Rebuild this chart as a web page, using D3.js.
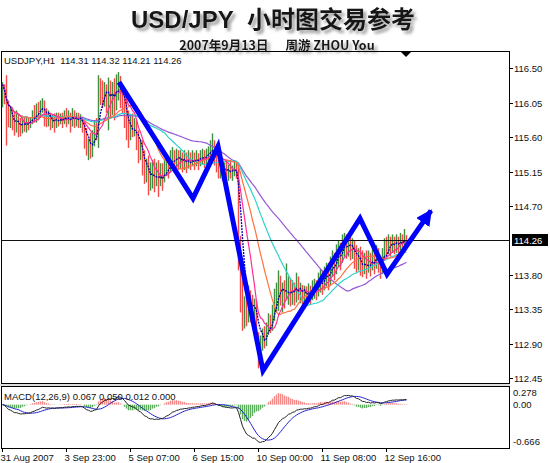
<!DOCTYPE html>
<html>
<head>
<meta charset="UTF-8">
<script src="https://cdn.jsdelivr.net/npm/d3@7"></script>
<style>
  body { margin: 0; background: #fff; }
  svg { display: block; }
  .lbl { font-family: "Liberation Sans", Arial, sans-serif; font-size: 9.5px; fill: #111; }
</style>
</head>
<body>
<script>
// USDJPY H1 bars (open = previous close)
var firstOpen = 116.10;
var closes = [
  116.29,116.15,115.85,115.79,115.92,115.77,115.72,115.87,115.74,115.69,
  115.82,115.74,115.85,115.77,115.82,115.92,115.85,116.00,115.90,116.03,
  116.08,115.82,115.77,115.90,115.79,115.85,115.74,115.87,115.82,115.87,
  115.79,115.90,115.82,115.88,115.76,115.92,115.82,115.87,115.79,115.85,
  115.72,115.53,115.43,115.53,115.40,115.61,115.76,115.64,116.34,116.24,
  116.08,116.26,116.03,116.32,115.98,116.24,116.08,116.34,116.37,116.13,
  116.00,115.82,115.66,115.58,115.79,115.69,115.77,115.51,115.35,115.49,
  115.19,115.09,115.23,115.01,115.06,115.19,114.98,115.17,114.96,115.14,
  115.03,115.22,115.27,115.17,115.35,115.40,115.24,115.38,115.27,115.35,
  115.23,115.32,115.22,115.32,115.24,115.35,115.27,115.35,115.27,115.36,
  115.39,115.30,115.38,115.43,115.48,115.53,115.32,115.22,115.17,115.24,
  115.11,115.19,115.14,115.19,115.11,115.17,115.22,115.14,114.25,113.60,
  113.23,113.47,113.31,113.52,113.47,113.26,113.40,113.02,112.78,112.94,
  113.05,112.94,113.13,113.23,113.13,113.33,113.57,113.62,113.78,113.52,
  113.60,113.47,113.57,113.70,113.49,113.65,113.52,113.75,113.57,113.62,
  113.49,113.60,113.47,113.62,113.52,113.65,113.67,113.57,113.75,113.81,
  113.65,113.83,113.88,113.73,113.96,114.04,113.88,114.12,114.17,114.01,
  114.25,114.28,114.12,114.22,114.09,114.20,113.99,113.91,114.07,113.88,
  113.83,114.01,113.86,114.04,113.88,114.07,113.94,114.12,113.96,113.83,
  114.09,114.22,114.15,114.25,114.17,114.25,114.17,114.25,114.18,114.28,
  114.20,114.31,114.26
];
var highs = [
  116.32,116.24,116.41,116.08,115.98,115.99,115.92,115.95,115.90,115.85,
  115.86,115.85,115.87,115.86,115.85,115.95,116.02,116.04,116.06,116.08,
  116.11,116.08,115.98,115.95,115.92,115.90,115.91,115.92,115.92,115.91,
  115.92,115.95,115.98,115.95,115.92,115.98,115.95,115.92,115.92,115.90,
  115.87,115.79,115.72,115.58,115.66,115.69,115.82,115.85,116.41,116.37,
  116.34,116.32,116.29,116.38,116.34,116.32,116.37,116.42,116.45,116.40,
  116.29,116.21,116.12,115.95,115.89,115.91,115.85,115.82,115.69,115.58,
  115.56,115.43,115.32,115.36,115.27,115.30,115.32,115.27,115.30,115.26,
  115.26,115.30,115.35,115.36,115.43,115.47,115.43,115.45,115.43,115.43,
  115.40,115.43,115.40,115.43,115.40,115.43,115.40,115.43,115.39,115.43,
  115.45,115.43,115.45,115.48,115.56,115.65,115.56,115.43,115.35,115.30,
  115.32,115.27,115.30,115.24,115.30,115.23,115.30,115.27,115.27,114.31,
  113.80,113.52,113.57,113.66,113.60,113.54,113.49,113.47,113.05,113.01,
  113.10,113.13,113.18,113.30,113.28,113.41,113.62,113.70,113.86,113.79,
  113.70,113.73,113.95,113.78,113.75,113.73,113.70,113.83,113.78,113.70,
  113.67,113.66,113.65,113.69,113.66,113.73,113.75,113.73,113.83,113.88,
  113.86,113.91,113.96,113.96,114.04,114.12,114.09,114.20,114.25,114.22,
  114.33,114.35,114.33,114.30,114.30,114.28,114.25,114.19,114.15,114.17,
  114.12,114.09,114.12,114.12,114.09,114.15,114.12,114.19,114.15,114.01,
  114.15,114.28,114.30,114.33,114.30,114.33,114.30,114.33,114.30,114.35,
  114.33,114.40,114.32
];
var lows = [
  115.99,116.03,115.49,115.73,115.72,115.69,115.62,115.66,115.60,115.61,
  115.65,115.67,115.66,115.69,115.72,115.77,115.79,115.79,115.82,115.85,
  115.92,115.74,115.73,115.74,115.69,115.72,115.66,115.72,115.74,115.77,
  115.72,115.77,115.73,115.77,115.66,115.74,115.72,115.74,115.72,115.72,
  115.66,115.45,115.36,115.30,115.32,115.34,115.48,115.56,115.46,116.02,
  115.98,116.00,115.92,115.69,115.85,115.89,115.82,115.95,116.08,115.98,
  115.91,115.72,115.56,115.46,115.56,115.60,115.61,115.43,115.26,115.30,
  115.10,114.99,115.01,114.84,114.90,114.93,114.88,114.96,114.82,114.97,
  114.90,115.01,115.09,115.06,115.14,115.22,115.14,115.19,115.17,115.19,
  115.14,115.17,115.13,115.19,115.17,115.22,115.17,115.22,115.17,115.22,
  115.24,115.20,115.24,115.27,115.30,115.36,115.23,115.14,115.06,115.06,
  115.03,115.03,115.06,115.03,115.06,115.03,115.09,115.06,113.86,113.31,
  113.07,113.10,113.13,113.18,113.18,113.13,113.18,112.94,112.58,112.68,
  112.81,112.84,112.87,113.02,113.04,113.07,113.20,113.31,113.33,113.40,
  113.31,113.36,113.47,113.41,113.39,113.41,113.40,113.44,113.47,113.43,
  113.39,113.41,113.39,113.44,113.41,113.47,113.49,113.47,113.52,113.57,
  113.54,113.60,113.65,113.60,113.67,113.78,113.73,113.81,113.91,113.86,
  113.96,114.04,114.01,114.04,113.99,114.01,113.88,113.83,113.86,113.79,
  113.77,113.81,113.75,113.83,113.78,113.86,113.81,113.88,113.83,113.75,
  113.81,114.01,114.04,114.07,114.04,114.09,114.07,114.09,114.08,114.12,
  114.09,114.15,114.21
];

var priceTicks = [116.50, 116.05, 115.60, 115.15, 114.70, 113.80, 113.35, 112.90, 112.45];
var lastPrice = 114.26;
var dateLabels = ["31 Aug 2007", "3 Sep 23:00", "5 Sep 07:00", "6 Sep 15:00", "10 Sep 00:00", "11 Sep 08:00", "12 Sep 16:00"];
var dateIdx = [0, 32, 64, 96, 128, 160, 192];
var maPeriods = [5, 10, 20, 34, 55];
var maColors = ["#0000b4", "#ff2f95", "#ff7040", "#2ed3cc", "#9458d8"];
var macdTicks = [0.278, 0.00, -0.666];
var macdTickText = ["0.278", "0.00", "-0.666"];
// hand drawn zigzag: bar index, price
var zigIdx = [58.5, 95.5, 108, 130.5, 179, 192.5, 214.5];
var zigPrice = [116.32, 114.80, 115.48, 112.55, 114.54, 113.81, 114.64];

var W = 550, H = 463;
var left = 1, right = 509;
var mainTop = 51, mainBottom = 383, macdTop = 386, macdBottom = 448;

var svg = d3.select("body").append("svg").attr("width", W).attr("height", H);
var defs = svg.append("defs");

defs.append("clipPath").attr("id", "clipMain").append("rect")
  .attr("x", left).attr("y", mainTop).attr("width", right - left).attr("height", mainBottom - mainTop);
defs.append("clipPath").attr("id", "clipMacd").append("rect")
  .attr("x", left).attr("y", macdTop).attr("width", right - left).attr("height", macdBottom - macdTop);

// soft grey drop shadow for the headings
var shadow = defs.append("filter").attr("id", "shadow")
  .attr("x", "-5%").attr("y", "-50%").attr("width", "115%").attr("height", "200%");
shadow.append("feGaussianBlur").attr("in", "SourceAlpha").attr("stdDeviation", 1.5).attr("result", "b");
shadow.append("feOffset").attr("in", "b").attr("dx", 2.5).attr("dy", 2.5).attr("result", "o");
shadow.append("feFlood").attr("flood-color", "#8a8a8a").attr("flood-opacity", 0.85);
shadow.append("feComposite").attr("in2", "o").attr("operator", "in").attr("result", "s");
var merge = shadow.append("feMerge");
merge.append("feMergeNode").attr("in", "s");
merge.append("feMergeNode").attr("in", "SourceGraphic");

defs.append("marker").attr("id", "arrow")
  .attr("viewBox", "0 0 10 10").attr("refX", 9).attr("refY", 5)
  .attr("markerWidth", 3.2).attr("markerHeight", 3.2).attr("orient", "auto")
  .append("path").attr("d", "M0,0 L10,5 L0,10 z").attr("fill", "#0000ff");

// scales
var x = d3.scaleLinear().domain([0, 254]).range([2, 510]);
var y = d3.scaleLinear().domain([112.45, 116.50]).range([378.3, 68.3]);
var ym = d3.scaleLinear().domain([-0.666, 0.278]).range([macdBottom - 1, macdTop + 1]);

// headings
function heading(tx, ty, size, parts) {
  var t = svg.append("text").attr("x", tx).attr("y", ty)
    .attr("text-anchor", "middle").attr("font-weight", "bold")
    .attr("font-size", size).attr("fill", "#151515").attr("filter", "url(#shadow)");
  parts.forEach(function(p) {
    t.append("tspan").attr("font-family", p[1]).text(p[0]);
  });
}
heading(273, 28, 24, [["USD/JPY\u00a0\u00a0", "'Liberation Sans Narrow', 'Liberation Sans', sans-serif"], ["小时图交易参考", "'Noto Sans CJK SC', sans-serif"]]);
heading(277, 49.5, 12.5, [["2007年9月13日", "'Noto Sans CJK SC', sans-serif"], ["\u00a0\u00a0\u00a0\u00a0\u00a0\u00a0周游 ZHOU You", "'Noto Sans CJK SC', sans-serif"]]);

// frames
svg.append("rect").attr("x", left + 0.5).attr("y", mainTop + 0.5)
  .attr("width", right - left).attr("height", mainBottom - mainTop)
  .attr("fill", "none").attr("stroke", "#000");
svg.append("rect").attr("x", left + 0.5).attr("y", macdTop + 0.5)
  .attr("width", right - left).attr("height", macdBottom - macdTop)
  .attr("fill", "none").attr("stroke", "#000");
svg.append("line").attr("x1", 0).attr("x2", right + 1).attr("y1", mainBottom + 2).attr("y2", mainBottom + 2)
  .attr("stroke", "#bbb");

// bars
var bars = closes.map(function(c, i) {
  var o = i === 0 ? firstOpen : closes[i - 1];
  return { i: i, o: o, c: c, h: Math.max(highs[i], o, c), l: Math.min(lows[i], o, c) };
});
var gMain = svg.append("g").attr("clip-path", "url(#clipMain)");
gMain.selectAll("line.bar").data(bars).enter().append("line")
  .attr("class", "bar")
  .attr("x1", function(d) { return x(d.i) + 0.5; })
  .attr("x2", function(d) { return x(d.i) + 0.5; })
  .attr("y1", function(d) { return y(d.h); })
  .attr("y2", function(d) { return y(d.l); })
  .attr("stroke", function(d) { return d.c >= d.o ? "#3f8f3f" : "#f44a4a"; })
  .attr("stroke-width", 1.4);

// moving averages
function sma(arr, n) {
  return arr.map(function(v, i) { return d3.mean(arr.slice(Math.max(0, i - n + 1), i + 1)); });
}
var line = d3.line().x(function(d, i) { return x(i) + 0.5; }).y(function(d) { return y(d); });
maPeriods.slice().reverse().forEach(function(n, k) {
  var idx = maPeriods.length - 1 - k;
  gMain.append("path").datum(sma(closes, n))
    .attr("d", line).attr("fill", "none")
    .attr("stroke", maColors[idx]).attr("stroke-width", n === 5 ? 1.3 : 1.2)
    .attr("stroke-dasharray", n === 5 ? "2,1" : null);
});

// current price line
gMain.append("line").attr("x1", left).attr("x2", right)
  .attr("y1", Math.round(y(lastPrice)) + 0.5).attr("y2", Math.round(y(lastPrice)) + 0.5)
  .attr("stroke", "#111");

// zigzag
var zz = zigIdx.map(function(v, i) { return [x(v), y(zigPrice[i])]; });
svg.append("path").attr("d", d3.line()(zz))
  .attr("fill", "none").attr("stroke", "#0000ff").attr("stroke-width", 5)
  .attr("stroke-linejoin", "miter").attr("stroke-miterlimit", 10)
  .attr("marker-end", "url(#arrow)");

// shift marker
var sx = x(closes.length - 1);
svg.append("path").attr("d", "M" + (sx - 5) + "," + (mainTop + 1) + "L" + (sx + 5) + "," + (mainTop + 1) + "L" + sx + "," + (mainTop + 6) + "Z")
  .attr("fill", "#000");

// price axis
priceTicks.forEach(function(p) {
  var ty = Math.round(y(p)) + 0.5;
  svg.append("line").attr("x1", right + 1).attr("x2", right + 4).attr("y1", ty).attr("y2", ty).attr("stroke", "#000");
  svg.append("text").attr("class", "lbl").attr("x", right + 5).attr("y", ty + 3.5).text(p.toFixed(2));
});
var ly = Math.round(y(lastPrice));
svg.append("rect").attr("x", right + 3).attr("y", ly - 6).attr("width", 36).attr("height", 12).attr("fill", "#000");
svg.append("text").attr("class", "lbl").attr("x", right + 5).attr("y", ly + 3.5).style("fill", "#fff").text(lastPrice.toFixed(2));

svg.append("text").attr("class", "lbl").attr("x", 4).attr("y", 64)
  .text("USDJPY,H1\u00a0\u00a0114.31 114.32 114.21 114.26");

// MACD
var k12 = 2 / 13, k26 = 2 / 27, e12 = closes[0], e26 = closes[0];
var macd = closes.map(function(c) {
  e12 += k12 * (c - e12); e26 += k26 * (c - e26);
  return e12 - e26;
});
var signal = sma(macd, 9);
var hist = macd.map(function(m, i) { return m - signal[i]; });

var gMacd = svg.append("g").attr("clip-path", "url(#clipMacd)");
gMacd.selectAll("line.h").data(hist).enter().append("line")
  .attr("class", "h")
  .attr("x1", function(d, i) { return x(i) + 0.5; })
  .attr("x2", function(d, i) { return x(i) + 0.5; })
  .attr("y1", ym(0))
  .attr("y2", function(d) { return ym(d); })
  .attr("stroke", function(d) { return d < 0 ? "#5fae5f" : "#f28a8a"; })
  .attr("stroke-width", 1.4);
var mline = d3.line().x(function(d, i) { return x(i) + 0.5; }).y(function(d) { return ym(d); });
gMacd.append("path").datum(signal).attr("d", mline).attr("fill", "none").attr("stroke", "#2020e0").attr("stroke-width", 1);
gMacd.append("path").datum(macd).attr("d", mline).attr("fill", "none").attr("stroke", "#222").attr("stroke-width", 1);

svg.append("text").attr("class", "lbl").attr("x", 4).attr("y", 400)
  .text("MACD(12,26,9) 0.067 0.050 0.012 0.000");

macdTicks.forEach(function(v, i) {
  var ty = i === 0 ? macdTop + 10 : (i === 2 ? macdBottom - 3 : ym(v) + 3.5);
  svg.append("text").attr("class", "lbl").attr("x", right + 4).attr("y", ty).text(macdTickText[i]);
});

// time axis
dateIdx.forEach(function(d, i) {
  var tx = Math.round(x(d)) + 0.5;
  svg.append("line").attr("x1", tx).attr("x2", tx).attr("y1", macdBottom + 1).attr("y2", macdBottom + 4).attr("stroke", "#000");
  svg.append("text").attr("class", "lbl").attr("x", tx - 2).attr("y", 461).text(dateLabels[i]);
});
</script>
</body>
</html>
